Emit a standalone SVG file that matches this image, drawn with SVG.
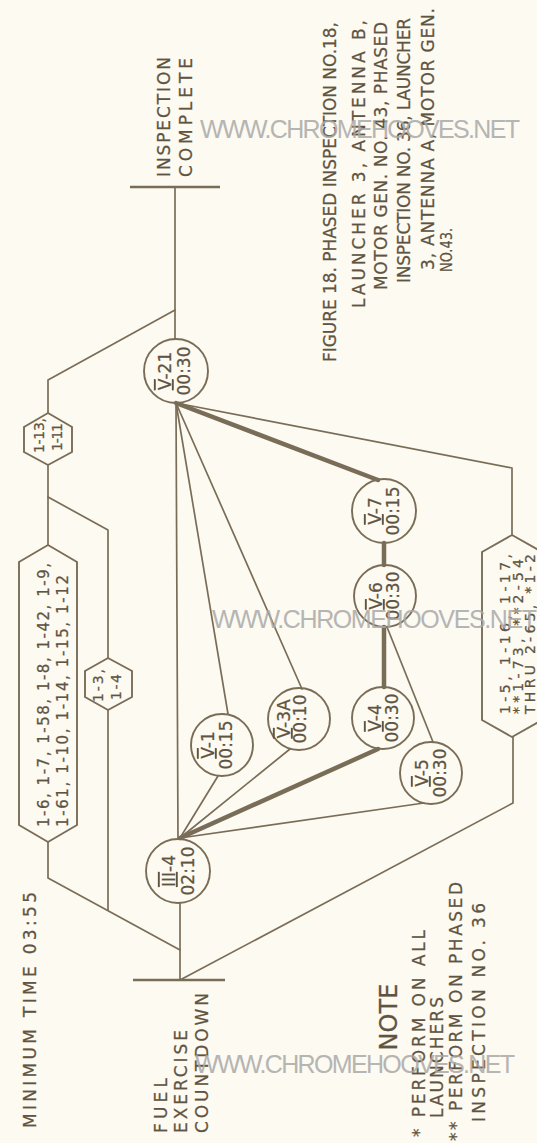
<svg xmlns="http://www.w3.org/2000/svg" width="537" height="1143" viewBox="0 0 537 1143">
<defs>
<style>
.bg{fill:#fdfaf1}
.ln{fill:none;stroke:#7a6d58;stroke-width:1.7;stroke-linecap:round;stroke-linejoin:round}
.tk{fill:none;stroke:#7a6d58;stroke-width:4.5;stroke-linecap:round}
.bar{fill:none;stroke:#7a6d58;stroke-width:2.4}
.nd{fill:none;stroke:#7a6d58;stroke-width:1.9}
.t{font-family:"DejaVu Sans","Liberation Sans",sans-serif;fill:#5f5442;stroke:#5f5442;stroke-width:0.25;font-size:17px}
.s{font-size:14px}
.c{font-size:17px;text-anchor:middle}
.rn{text-decoration:overline underline}
.wm{font-family:"Liberation Sans",Arial,sans-serif;font-size:25px;fill:#a9a9a9;opacity:0.85}
</style>
</defs>
<rect class="bg" x="0" y="0" width="537" height="1143"/>

<g id="connectors">
<path class="ln" d="M180,980 V903"/>
<path class="ln" d="M180,950 L48,878 V842"/>
<path class="ln" d="M108,910 V710"/>
<path class="ln" d="M108,658 V530 L48,497"/>
<path class="ln" d="M48,545 V465"/>
<path class="ln" d="M48,413 V380 L175,310"/>
<path class="ln" d="M175,187 V339"/>
<path class="ln" d="M180,980 L513,803 V737"/>
<path class="ln" d="M512,535 V468 L176,403"/>
<path class="ln" d="M176,403 L178,839"/>
<path class="ln" d="M176,403 L228,714"/>
<path class="ln" d="M176,403 L302,689"/>
<path class="tk" d="M176,403 L378,480"/>
<path class="ln" d="M180,838 L218,776"/>
<path class="ln" d="M180,838 L290,749"/>
<path class="tk" d="M180,838 L378,749"/>
<path class="ln" d="M180,838 L424,803"/>
<path class="tk" d="M384,543 V565"/>
<path class="tk" d="M384,627 V687"/>
<path class="ln" d="M387,627 L433,742"/>
</g>

<g id="start">
<path class="bar" d="M133,980 H225"/>
<text class="t" transform="translate(167,1133) rotate(-90)" textLength="55" lengthAdjust="spacing">FUEL</text>
<text class="t" transform="translate(187,1133) rotate(-90)" textLength="103" lengthAdjust="spacing">EXERCISE</text>
<text class="t" transform="translate(208,1133) rotate(-90)" textLength="140" lengthAdjust="spacing">COUNTDOWN</text>
</g>

<g id="end">
<path class="bar" d="M130,187 H220"/>
<text class="t" transform="translate(170,177) rotate(-90)" textLength="120" lengthAdjust="spacing">INSPECTION</text>
<text class="t" transform="translate(192,177) rotate(-90)" textLength="119" lengthAdjust="spacing">COMPLETE</text>
</g>

<g id="hex-1-6">
<path class="nd" d="M48,545 L77,562 L77,825 L48,842 L19,825 L19,562 Z"/>
<text class="t" style="font-size:15px" transform="translate(49,827) rotate(-90)" textLength="264" lengthAdjust="spacing">1-6, 1-7, 1-58, 1-8, 1-42, 1-9,</text>
<text class="t" style="font-size:15px" transform="translate(68,827) rotate(-90)" textLength="252" lengthAdjust="spacing">1-61, 1-10, 1-14, 1-15, 1-12</text>
</g>

<g id="hex-1-13">
<path class="nd" d="M48,413 L72,427 L72,452 L48,465 L24,452 L24,427 Z"/>
<text class="t s" transform="translate(44,453) rotate(-90)" textLength="35" lengthAdjust="spacing">1-13,</text>
<text class="t s" transform="translate(62,451) rotate(-90)" textLength="28" lengthAdjust="spacing">1-11</text>
</g>

<g id="hex-1-3">
<path class="nd" d="M108,658 L132,671 L132,697 L108,710 L85,697 L85,671 Z"/>
<text class="t s" transform="translate(103,702) rotate(-90)" textLength="33" lengthAdjust="spacing">1-3,</text>
<text class="t s" transform="translate(121,700) rotate(-90)" textLength="26" lengthAdjust="spacing">1-4</text>
</g>

<g id="hex-1-5">
<path class="nd" d="M512,535 L542,552 L542,720 L512,737 L482,720 L482,552 Z"/>
<text class="t s" transform="translate(510,714) rotate(-90)" textLength="160" lengthAdjust="spacing">1-5, 1-16, 1-17,</text>
<text class="t s" transform="translate(523,714) rotate(-90)" textLength="155" lengthAdjust="spacing">**1-73, **2-54</text>
<text class="t s" transform="translate(535,714) rotate(-90)" textLength="160" lengthAdjust="spacing">THRU 2-65, *1-2</text>
</g>

<g id="III-4">
<circle class="nd" cx="178" cy="871" r="32"/>
<text class="t c" transform="translate(175,871) rotate(-90)"><tspan class="rn">III</tspan>-4</text>
<text class="t c" transform="translate(194,871) rotate(-90)">02:10</text>
</g>
<g id="V-21">
<circle class="nd" cx="176" cy="371" r="32"/>
<text class="t c" transform="translate(171,371) rotate(-90)"><tspan class="rn">V</tspan>-21</text>
<text class="t c" transform="translate(190,371) rotate(-90)">00:30</text>
</g>
<g id="V-1">
<circle class="nd" cx="222" cy="745" r="31"/>
<text class="t c" transform="translate(214,745) rotate(-90)"><tspan class="rn">V</tspan>-1</text>
<text class="t c" transform="translate(232,745) rotate(-90)">00:15</text>
</g>
<g id="V-3A">
<circle class="nd" cx="299" cy="719" r="31"/>
<text class="t c" transform="translate(290,719) rotate(-90)"><tspan class="rn">V</tspan>-3A</text>
<text class="t c" transform="translate(306,719) rotate(-90)">00:10</text>
</g>
<g id="V-4">
<circle class="nd" cx="383" cy="718" r="31"/>
<text class="t c" transform="translate(381,718) rotate(-90)"><tspan class="rn">V</tspan>-4</text>
<text class="t c" transform="translate(398,718) rotate(-90)">00:30</text>
</g>
<g id="V-5">
<circle class="nd" cx="431" cy="773" r="31"/>
<text class="t c" transform="translate(428,773) rotate(-90)"><tspan class="rn">V</tspan>-5</text>
<text class="t c" transform="translate(446,773) rotate(-90)">00:30</text>
</g>
<g id="V-6">
<circle class="nd" cx="385" cy="596" r="31"/>
<text class="t c" transform="translate(382,596) rotate(-90)"><tspan class="rn">V</tspan>-6</text>
<text class="t c" transform="translate(399,596) rotate(-90)">00:30</text>
</g>
<g id="V-7">
<circle class="nd" cx="384" cy="511" r="32"/>
<text class="t c" transform="translate(381,511) rotate(-90)"><tspan class="rn">V</tspan>-7</text>
<text class="t c" transform="translate(399,511) rotate(-90)">00:15</text>
</g>

<g id="min-time">
<text class="t" transform="translate(36,1128) rotate(-90)" textLength="236" lengthAdjust="spacing">MINIMUM TIME 03:55</text>
</g>

<g id="caption">
<text class="t" transform="translate(336,362) rotate(-90)" textLength="340" lengthAdjust="spacing">FIGURE 18. PHASED INSPECTION NO.18,</text>
<text class="t" transform="translate(365,308) rotate(-90)" textLength="288" lengthAdjust="spacing">LAUNCHER 3, ANTENNA B,</text>
<text class="t" transform="translate(387,290) rotate(-90)" textLength="268" lengthAdjust="spacing">MOTOR GEN. NO. 43, PHASED</text>
<text class="t" transform="translate(410,283) rotate(-90)" textLength="265" lengthAdjust="spacing">INSPECTION NO. 36, LAUNCHER</text>
<text class="t" transform="translate(434,270) rotate(-90)" textLength="262" lengthAdjust="spacing">3, ANTENNA A, MOTOR GEN.</text>
<text class="t" style="font-size:16px" transform="translate(452,272) rotate(-90)" textLength="44" lengthAdjust="spacingAndGlyphs">NO.43.</text>
</g>

<g id="note">
<text class="t" style="font-size:24px;text-anchor:middle" transform="translate(397,1017) rotate(-90)" textLength="67" lengthAdjust="spacing">NOTE</text>
<text class="t" transform="translate(425,1137) rotate(-90)" textLength="207" lengthAdjust="spacing">* PERFORM ON ALL</text>
<text class="t" transform="translate(443,1118) rotate(-90)" textLength="121" lengthAdjust="spacing">LAUNCHERS</text>
<text class="t" transform="translate(462,1141) rotate(-90)" textLength="259" lengthAdjust="spacing">** PERFORM ON PHASED</text>
<text class="t" transform="translate(485,1122) rotate(-90)" textLength="219" lengthAdjust="spacing">INSPECTION NO. 36</text>
</g>

<g id="watermark">
<text class="wm" x="200" y="138" textLength="320" lengthAdjust="spacing">WWW.CHROMEHOOVES.NET</text>
<text class="wm" x="212" y="628" textLength="325" lengthAdjust="spacing">WWW.CHROMEHOOVES.NET</text>
<text class="wm" x="195" y="1073" textLength="320" lengthAdjust="spacing">WWW.CHROMEHOOVES.NET</text>
</g>
</svg>
